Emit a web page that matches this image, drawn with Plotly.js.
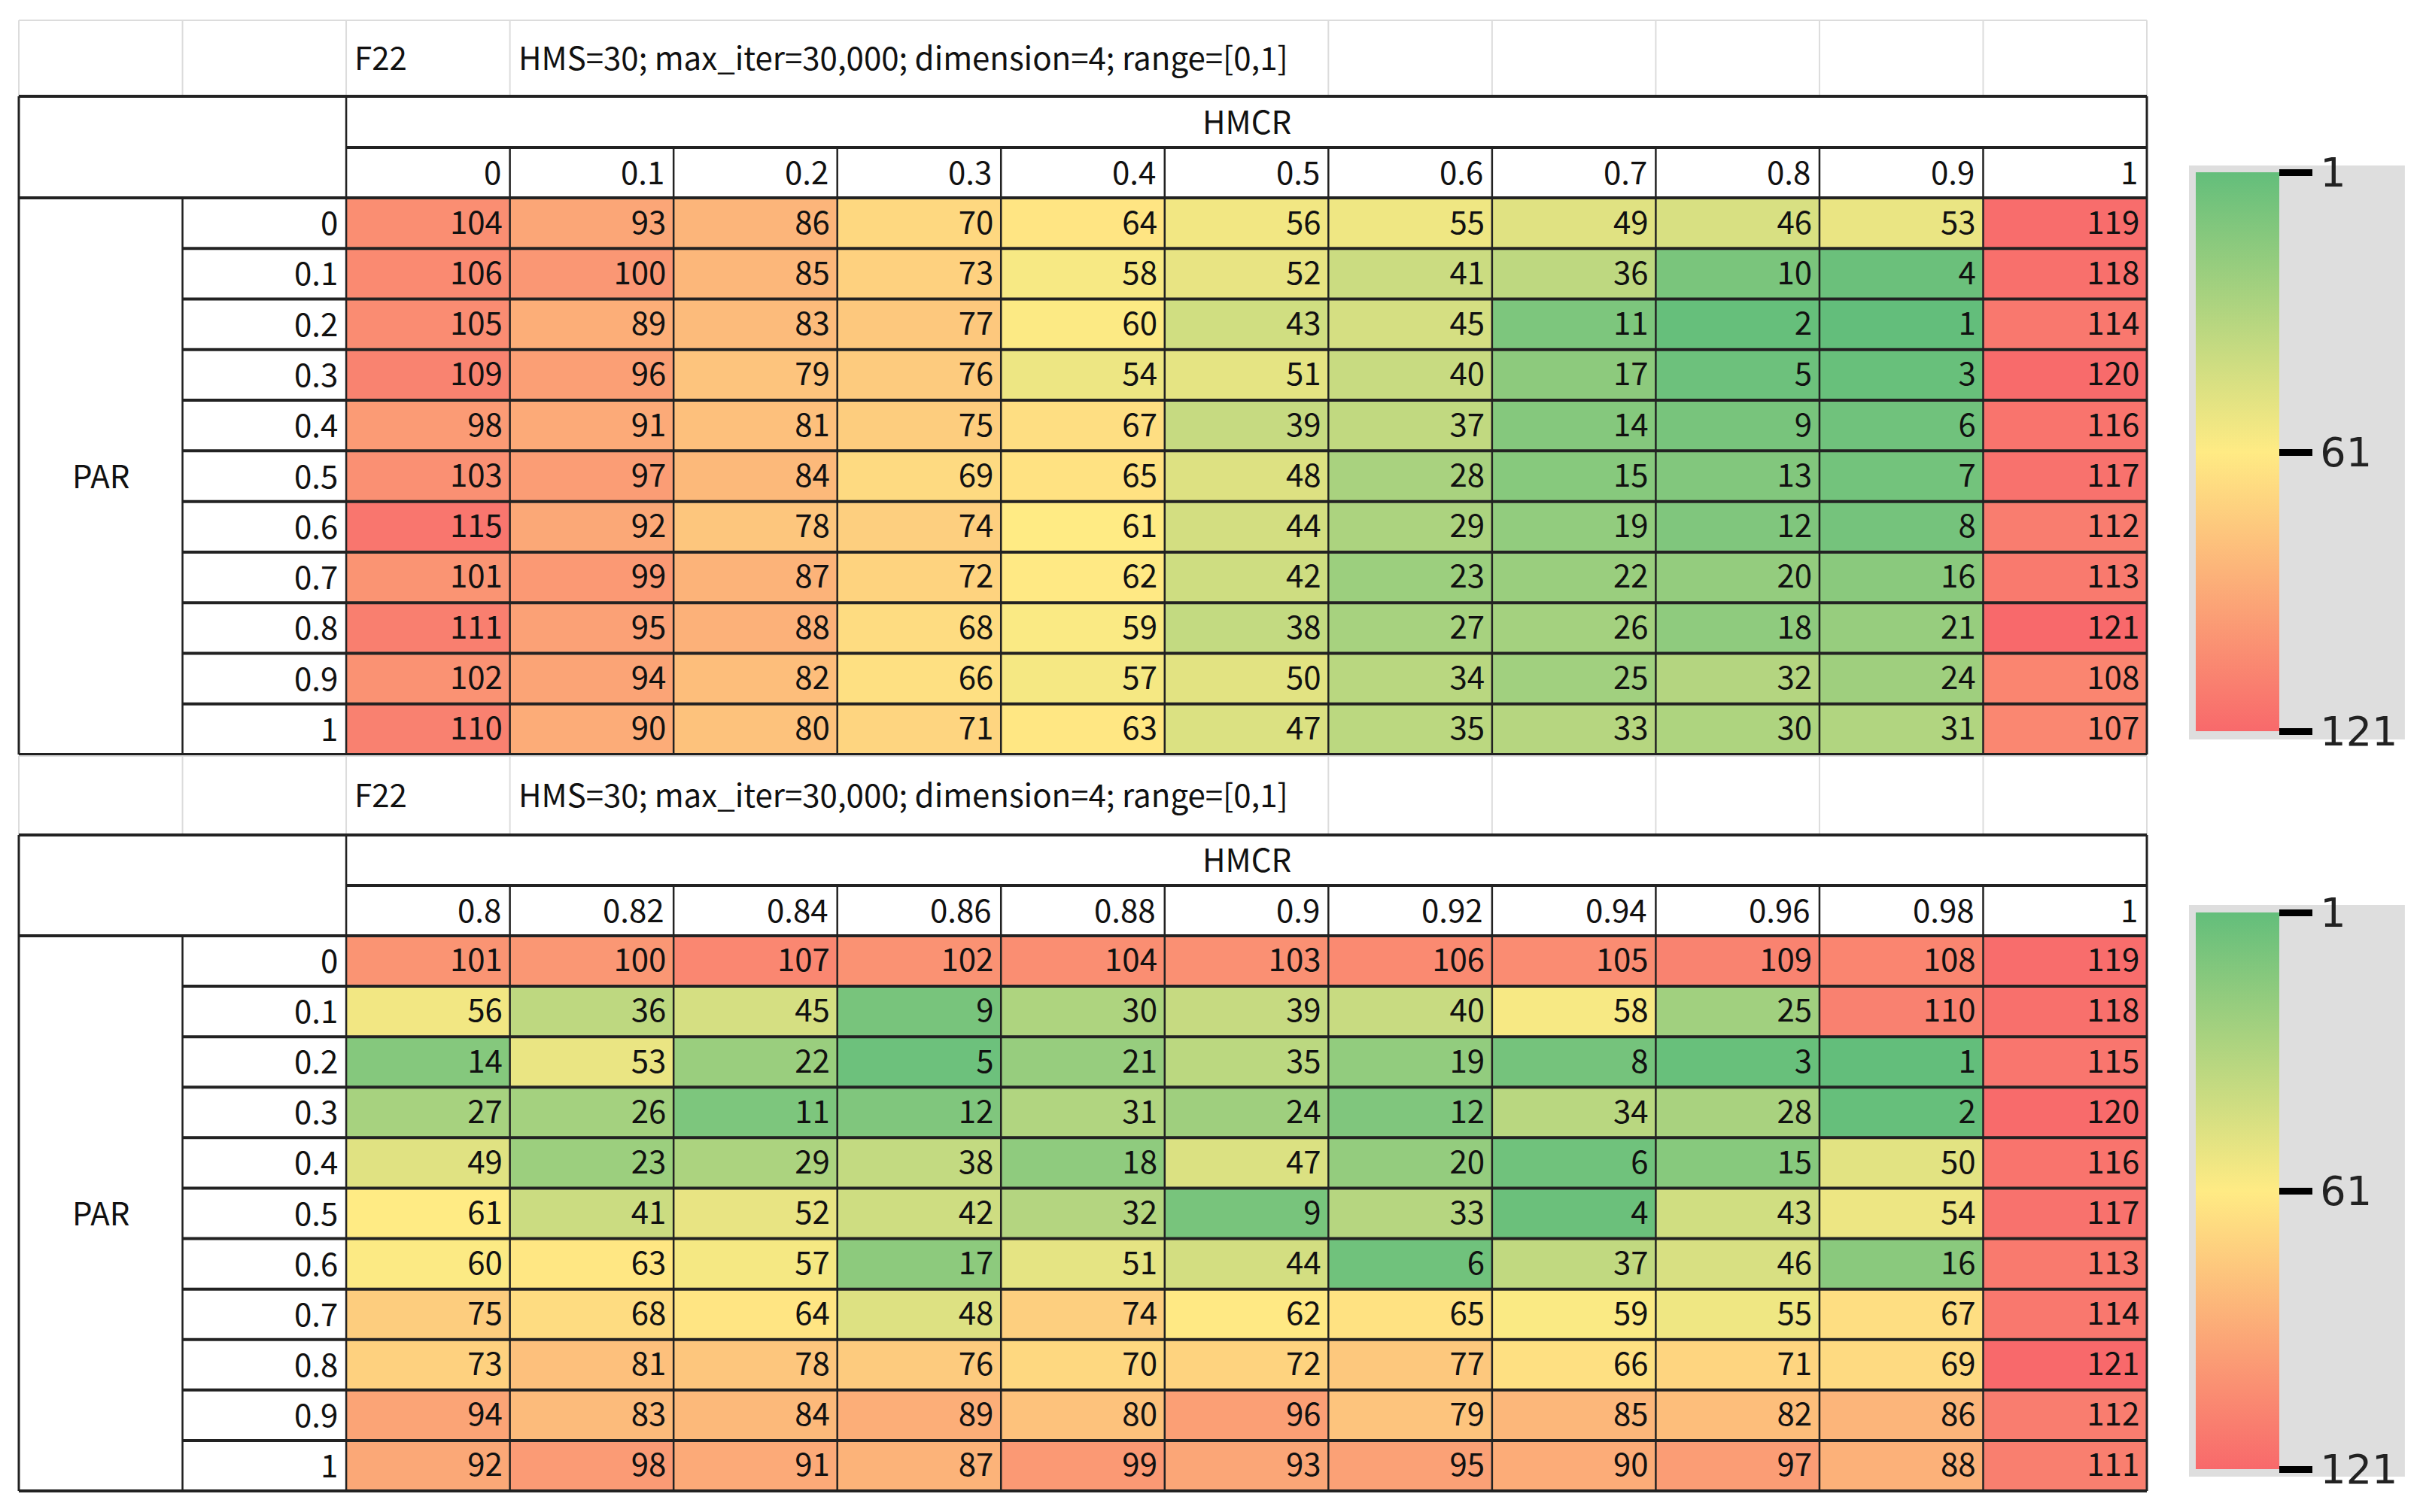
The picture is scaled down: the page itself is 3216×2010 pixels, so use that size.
<!DOCTYPE html>
<html>
<head>
<meta charset="utf-8">
<script src="https://cdn.plot.ly/plotly-3.0.1.min.js"></script>
<style>html,body{margin:0;padding:0;background:#fff;}#chart{width:3216px;height:2010px;}</style>
</head>
<body>
<div id="chart"></div>
<script>
// ---------- data ----------
const functionName = "F22";
const settingsText = "HMS=30; max_iter=30,000; dimension=4; range=[0,1]";
const colHeader = "HMCR";
const rowHeader = "PAR";
const parLabels = ["0","0.1","0.2","0.3","0.4","0.5","0.6","0.7","0.8","0.9","1"];
const hmcrTop = ["0","0.1","0.2","0.3","0.4","0.5","0.6","0.7","0.8","0.9","1"];
const hmcrBottom = ["0.8","0.82","0.84","0.86","0.88","0.9","0.92","0.94","0.96","0.98","1"];
const rankTop = [
  [104, 93, 86, 70, 64, 56, 55, 49, 46, 53, 119],
  [106,100, 85, 73, 58, 52, 41, 36, 10,  4, 118],
  [105, 89, 83, 77, 60, 43, 45, 11,  2,  1, 114],
  [109, 96, 79, 76, 54, 51, 40, 17,  5,  3, 120],
  [ 98, 91, 81, 75, 67, 39, 37, 14,  9,  6, 116],
  [103, 97, 84, 69, 65, 48, 28, 15, 13,  7, 117],
  [115, 92, 78, 74, 61, 44, 29, 19, 12,  8, 112],
  [101, 99, 87, 72, 62, 42, 23, 22, 20, 16, 113],
  [111, 95, 88, 68, 59, 38, 27, 26, 18, 21, 121],
  [102, 94, 82, 66, 57, 50, 34, 25, 32, 24, 108],
  [110, 90, 80, 71, 63, 47, 35, 33, 30, 31, 107]
];
const rankBottom = [
  [101,100,107,102,104,103,106,105,109,108,119],
  [ 56, 36, 45,  9, 30, 39, 40, 58, 25,110,118],
  [ 14, 53, 22,  5, 21, 35, 19,  8,  3,  1,115],
  [ 27, 26, 11, 12, 31, 24, 12, 34, 28,  2,120],
  [ 49, 23, 29, 38, 18, 47, 20,  6, 15, 50,116],
  [ 61, 41, 52, 42, 32,  9, 33,  4, 43, 54,117],
  [ 60, 63, 57, 17, 51, 44,  6, 37, 46, 16,113],
  [ 75, 68, 64, 48, 74, 62, 65, 59, 55, 67,114],
  [ 73, 81, 78, 76, 70, 72, 77, 66, 71, 69,121],
  [ 94, 83, 84, 89, 80, 96, 79, 85, 82, 86,112],
  [ 92, 98, 91, 87, 99, 93, 95, 90, 97, 88,111]
];
const scaleTicks = [1, 61, 121];

// ---------- layout helpers ----------
const W = 3216, H = 2010;
const px = x => x / W;
const py = y => 1 - y / H;
const X0 = 25, CW = 217.54, NC = 13;
const colX = i => X0 + i * CW;
const XR = colX(NC);
const FONT = '"Noto Sans CJK KR", "Noto Sans", sans-serif';
const FS = 42;
const DARK = '#222222';
const GRID = '#dcdcdc';
const YS = 3; // small upward nudge for annotation text

const tables = [
  {rank: rankTop, hdr: hmcrTop, tTop: 27, top: 128, hm: 196, hd: 263, end: 1003, xa: 'x', ya: 'y', cbY: 601, cbLen: 763},
  {rank: rankBottom, hdr: hmcrBottom, tTop: 1005, top: 1110, hm: 1177, hd: 1244, end: 1982, xa: 'x2', ya: 'y2', cbY: 1583, cbLen: 760}
];

const colorscale = [[0, '#F8696B'], [0.5, '#FFEB84'], [1, '#63BE7B']];

const traces = [];
const shapes = [];
const annotations = [];
const layout = {
  width: W, height: H,
  margin: {l: 0, r: 0, t: 0, b: 0},
  paper_bgcolor: '#ffffff', plot_bgcolor: '#ffffff',
  showlegend: false,
  font: {family: FONT, size: FS, color: '#111'},
  shapes, annotations
};

function line(x0, y0, x1, y1, color, width) {
  shapes.push({type: 'line', xref: 'paper', yref: 'paper', x0: px(x0), y0: py(y0), x1: px(x1), y1: py(y1),
    line: {color: color, width: width}, layer: 'above'});
}
function label(opts) {
  annotations.push(Object.assign({showarrow: false, yanchor: 'middle', yshift: YS,
    font: {family: FONT, size: FS, color: '#111'}}, opts));
}

tables.forEach((t, k) => {
  const nR = parLabels.length, nC = t.hdr.length;
  const idx = [...Array(nC).keys()];
  const ridx = [...Array(nR).keys()];
  const axN = k === 0 ? '' : '2';
  layout['xaxis' + axN] = {domain: [px(colX(2)), px(XR)], range: [-0.5, nC - 0.5], visible: false, fixedrange: true};
  layout['yaxis' + axN] = {domain: [py(t.end), py(t.hd)], range: [nR - 0.5, -0.5], visible: false, fixedrange: true};

  // heat cells (negated so that rank 1 sits at the top of the colour bar)
  traces.push({
    type: 'heatmap', xaxis: t.xa, yaxis: t.ya,
    x: idx, y: ridx,
    z: t.rank.map(r => r.map(v => -v)),
    zmin: -121, zmax: -1,
    colorscale: colorscale,
    hoverinfo: 'skip',
    colorbar: {
      x: px(2909), xanchor: 'left', xpad: 9,
      y: py(t.cbY), yanchor: 'middle', ypad: 10,
      len: t.cbLen, lenmode: 'pixels',
      thickness: 111, thicknessmode: 'pixels',
      outlinewidth: 0, bgcolor: '#dedede',
      tickmode: 'array', tickvals: scaleTicks.map(v => -v), ticktext: scaleTicks.map(String),
      ticks: 'outside', ticklen: 44, tickwidth: 9, tickcolor: '#000',
      tickfont: {family: '"DejaVu Sans", sans-serif', size: 54, color: '#222'}
    }
  });

  // cell numbers (right aligned)
  const tx = [], ty = [], tt = [];
  t.rank.forEach((row, i) => row.forEach((v, j) => { tx.push(j + 0.455); ty.push(i + 0.05); tt.push(String(v)); }));
  traces.push({
    type: 'scatter', mode: 'text', xaxis: t.xa, yaxis: t.ya,
    x: tx, y: ty, text: tt, textposition: 'middle left',
    textfont: {family: FONT, size: FS, color: '#111'}, hoverinfo: 'skip', cliponaxis: false
  });

  // title row
  label({xref: 'paper', yref: 'paper', x: px(colX(2) + 9), y: py((t.tTop + t.top) / 2), xanchor: 'left', text: functionName});
  label({xref: 'paper', yref: 'paper', x: px(colX(3) + 9), y: py((t.tTop + t.top) / 2), xanchor: 'left', text: settingsText});
  // HMCR header
  label({xref: 'paper', yref: 'paper', x: px((colX(2) + XR) / 2), y: py((t.top + t.hm) / 2), xanchor: 'center', text: colHeader});
  // column header values
  t.hdr.forEach((h, j) => label({xref: t.xa, yref: 'paper', x: j + 0.455, y: py((t.hm + t.hd) / 2), xanchor: 'right', text: h}));
  // PAR label
  label({xref: 'paper', yref: 'paper', x: px((colX(0) + colX(1)) / 2), y: py((t.hd + t.end) / 2), xanchor: 'center', text: rowHeader});
  // row labels
  parLabels.forEach((p, i) => label({xref: 'paper', yref: t.ya, x: px(colX(2) - 9), y: i, xanchor: 'right', text: p}));

  // light spreadsheet gridlines in title row
  line(X0, t.tTop, XR, t.tTop, GRID, 2);
  [0, 1, 2, 3, 8, 9, 10, 11, 12, 13].forEach(c => line(colX(c), t.tTop, colX(c), t.top, GRID, 2));

  // table borders
  const rowH = (t.end - t.hd) / nR;
  line(X0, t.top, XR, t.top, DARK, 4);
  line(X0, t.end, XR, t.end, DARK, 4);
  line(X0, t.top, X0, t.end, DARK, 3);
  line(XR, t.top, XR, t.end, DARK, 3);
  line(colX(2), t.hm, XR, t.hm, DARK, 4);
  line(X0, t.hd, XR, t.hd, DARK, 4);
  line(colX(2), t.top, colX(2), t.end, DARK, 2.5);
  line(colX(1), t.hd, colX(1), t.end, DARK, 2.5);
  for (let c = 3; c < NC; c++) line(colX(c), t.hm, colX(c), t.end, DARK, 2.5);
  for (let r = 1; r < nR; r++) line(colX(1), t.hd + r * rowH, XR, t.hd + r * rowH, DARK, 4);
});

Plotly.newPlot('chart', traces, layout, {displayModeBar: false, staticPlot: true});
</script>
</body>
</html>
